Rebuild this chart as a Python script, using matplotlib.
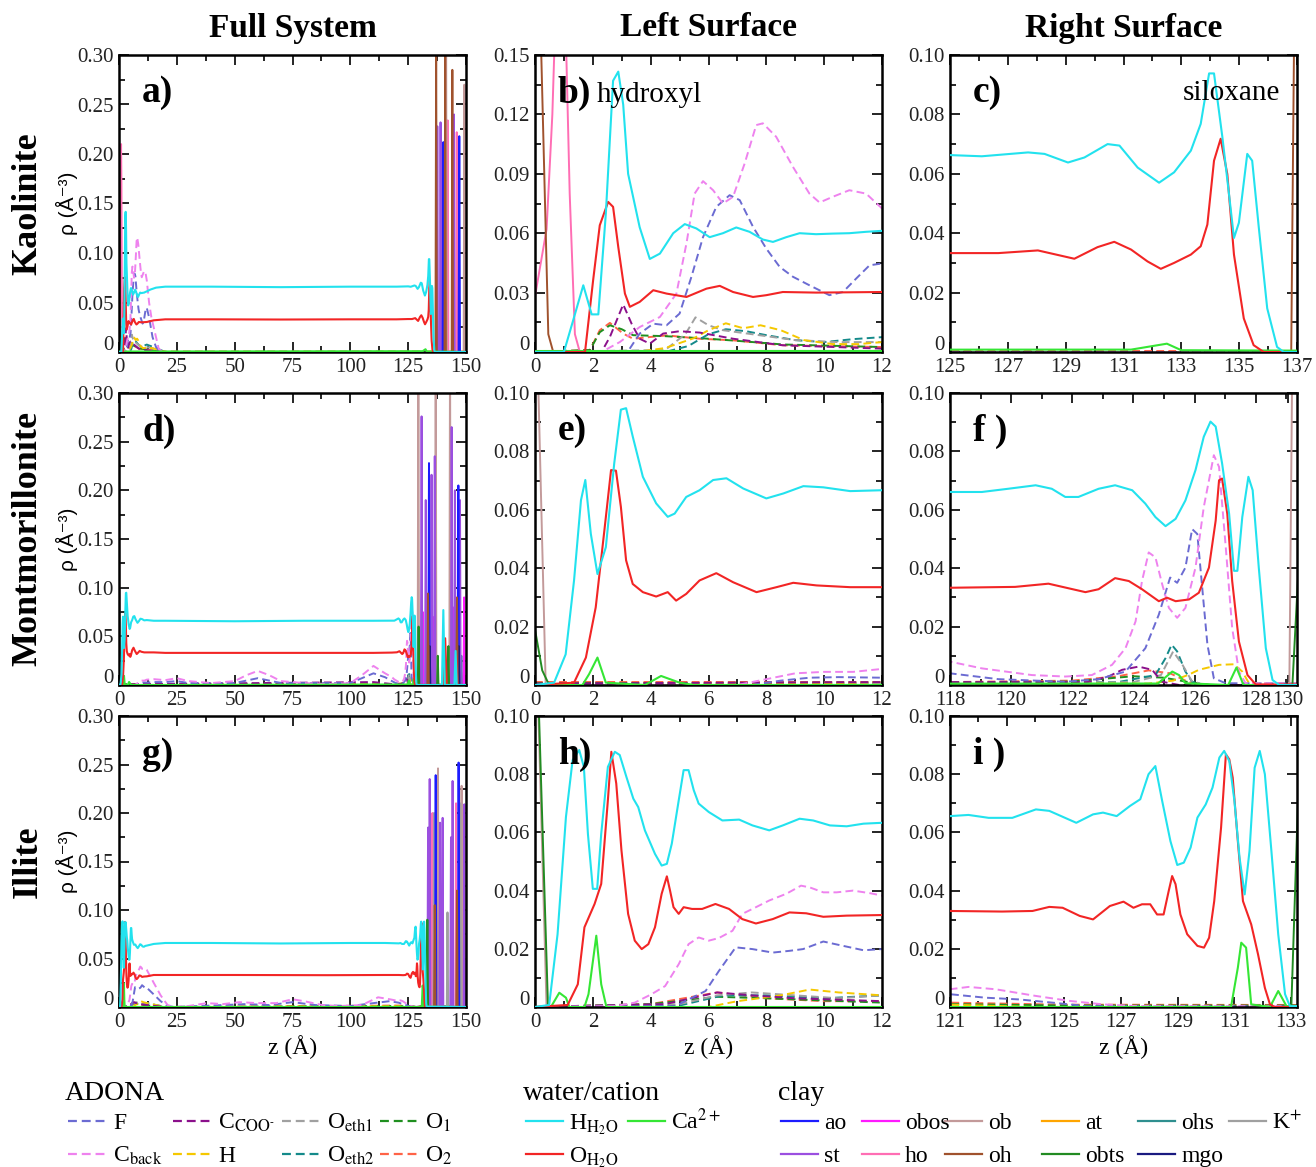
import numpy as np
import matplotlib
matplotlib.use("Agg")
import matplotlib.pyplot as plt
from matplotlib.lines import Line2D
from matplotlib.ticker import FixedLocator, MultipleLocator, FuncFormatter

# ------------------------------------------------------------------ data
# ---------- Kaolinite (full range 0-150 A) ----------
KAO_HW_X = [0, 1.0, 1.3, 1.67, 1.96, 2.19, 2.45, 2.7, 2.88, 3.05, 3.22, 3.62, 3.97, 4.32, 4.78, 5.18, 5.58, 6.04, 6.5,
            6.96, 7.42, 7.88, 8.23, 8.69, 9.15, 9.72, 10.3, 10.87, 11.45, 12.0, 13.5, 16, 20, 40, 70, 100, 120, 125,
            126.1, 127.7, 128.27, 129.08, 129.65, 130.45, 130.86, 131.49, 132.23, 132.75, 133.33, 133.67, 133.96,
            134.13, 134.42, 134.65, 134.82, 134.99, 135.28, 135.45, 135.68, 135.97, 136.31, 136.54, 150]
KAO_HW_Y = [0, 0.0, 0.015, 0.0337, 0.019, 0.019, 0.07, 0.137, 0.1416, 0.125, 0.090, 0.063, 0.047, 0.0497, 0.060,
            0.0646, 0.0624, 0.058, 0.060, 0.0629, 0.0607, 0.0568, 0.0556, 0.058, 0.060, 0.0595, 0.0598, 0.060, 0.0607,
            0.0612, 0.063, 0.065, 0.066, 0.066, 0.0655, 0.066, 0.066, 0.0663, 0.0659, 0.0672, 0.0667, 0.0638, 0.0655,
            0.070, 0.0695, 0.0621, 0.057, 0.0605, 0.0678, 0.0768, 0.0938, 0.0938, 0.0723, 0.053, 0.0384, 0.0435,
            0.0667, 0.0644, 0.0418, 0.0147, 0.0017, 0.0, 0.0]
KAO_OW_X = [0, 1.73, 2.01, 2.24, 2.53, 2.70, 2.88, 3.11, 3.28, 3.62, 4.09, 4.55, 5.24, 5.93, 6.39, 6.85, 7.54, 8.0,
            8.57, 9.72, 12.0, 15, 20, 40, 70, 100, 120, 125, 126.67, 128.04, 129.3, 130.1, 130.68, 131.26, 131.83,
            132.29, 132.75, 133.33, 133.67, 133.9, 134.13, 134.36, 134.59, 134.82, 135.16, 135.5, 135.85, 150]
KAO_OW_Y = [0, 0.0, 0.0362, 0.064, 0.0758, 0.0733, 0.053, 0.0295, 0.0228, 0.0253, 0.0312, 0.0295, 0.0278, 0.032,
            0.0334, 0.0303, 0.0278, 0.0287, 0.0303, 0.030, 0.0303, 0.032, 0.033, 0.033, 0.0328, 0.033, 0.033, 0.0333,
            0.0333, 0.0342, 0.0314, 0.0353, 0.0371, 0.0345, 0.0305, 0.028, 0.030, 0.0328, 0.0356, 0.0429, 0.0644,
            0.0718, 0.0599, 0.0328, 0.0113, 0.0023, 0.0, 0.0]
KAO_CA_X = [0, 129, 131.26, 132.5, 133.0, 150]
KAO_CA_Y = [0.0005, 0.0008, 0.0008, 0.0028, 0.0006, 0.0]
KAO_F_X = [0, 3.2, 3.62, 4.09, 4.55, 5.0, 5.41, 5.81, 6.27, 6.73, 7.08, 7.54, 8.0, 8.46, 8.92, 9.49, 10.18, 10.65,
           11.1, 11.57, 12.0, 13, 14.5, 16, 18, 150]
KAO_F_Y = [0, 0.0, 0.0093, 0.0143, 0.0135, 0.0194, 0.038, 0.058, 0.0733, 0.0792, 0.0767, 0.0632, 0.0522, 0.043,
           0.038, 0.0337, 0.0287, 0.0303, 0.037, 0.0438, 0.0447, 0.035, 0.015, 0.005, 0.0, 0.0]
KAO_CB_X = [0, 2.3, 2.93, 3.62, 4.32, 4.89, 5.24, 5.52, 5.81, 6.16, 6.5, 6.85, 7.25, 7.65, 7.88, 8.34, 8.92, 9.49,
            9.84, 10.3, 10.87, 11.45, 12.0, 13, 14, 15.5, 17.2, 19, 150]
KAO_CB_Y = [0, 0.0, 0.005, 0.0126, 0.0177, 0.0295, 0.055, 0.080, 0.0863, 0.0817, 0.075, 0.0784, 0.0952, 0.1146,
            0.1155, 0.1087, 0.0935, 0.080, 0.0755, 0.0784, 0.0817, 0.080, 0.0725, 0.05, 0.035, 0.02, 0.003, 0.0, 0.0]
KAO_CC_X = [0, 2.3, 2.59, 3.05, 3.34, 3.62, 3.97, 4.43, 5.0, 5.7, 6.85, 8.57, 12.0, 16, 20, 150]
KAO_CC_Y = [0, 0.0, 0.0076, 0.024, 0.0143, 0.0067, 0.0042, 0.0093, 0.0105, 0.0098, 0.0067, 0.0034, 0.0017, 0.001,
            0.0, 0.0]
KAO_H_X = [0, 3.5, 4.5, 5.5, 6.0, 6.6, 7.2, 7.8, 8.5, 9.3, 10.3, 11.2, 12, 16, 20, 150]
KAO_H_Y = [0, 0.0, 0.002, 0.007, 0.011, 0.0145, 0.012, 0.0135, 0.011, 0.006, 0.004, 0.004, 0.005, 0.003, 0.0, 0.0]
KAO_OE1_X = [0, 4.5, 5.2, 5.55, 6.0, 6.5, 7.5, 9.0, 10.5, 12, 16, 20, 150]
KAO_OE1_Y = [0, 0.001, 0.009, 0.0175, 0.0135, 0.011, 0.009, 0.006, 0.005, 0.005, 0.003, 0.0, 0.0]
KAO_OE2_X = [0, 4.5, 5.3, 6.0, 6.6, 7.3, 8.0, 9.0, 10.0, 11.0, 12, 16, 20, 150]
KAO_OE2_Y = [0, 0.0, 0.003, 0.009, 0.0115, 0.0105, 0.0085, 0.006, 0.005, 0.0065, 0.0075, 0.004, 0.0, 0.0]
KAO_O1_X = [0, 1.9, 2.24, 2.59, 3.0, 3.39, 4.5, 5.7, 6.85, 8.57, 12.0, 16, 20, 150]
KAO_O1_Y = [0, 0.001, 0.010, 0.0135, 0.0115, 0.0085, 0.0080, 0.0070, 0.0058, 0.0038, 0.0025, 0.001, 0.0, 0.0]
KAO_O2_X = [0, 1.9, 2.24, 2.59, 3.05, 3.39, 4.55, 5.7, 6.85, 8.57, 12.0, 16, 20, 150]
KAO_O2_Y = [0, 0.001, 0.011, 0.0147, 0.0093, 0.0067, 0.0084, 0.0067, 0.0059, 0.0034, 0.0025, 0.001, 0.0005, 0.0005]
# clay near the left surface
KAO_HO_LX = [0, 0.4, 0.6, 0.75, 0.9, 1.05, 1.2, 1.38, 1.55]
KAO_HO_LY = [0.028, 0.062, 0.12, 0.19, 0.21, 0.17, 0.08, 0.009, 0.0]
KAO_OH_LX = [0, 0.2, 0.35, 0.46, 0.63]
KAO_OH_LY = [0.2, 0.16, 0.073, 0.009, 0.0]
# clay peaks (position, height)
KAO_AO_P, KAO_AO_H = [140.2, 147.1], [0.212, 0.218]
KAO_ST_P, KAO_ST_H = [137.6, 139.0, 144.8], [0.228, 0.232, 0.24]
KAO_OB_P, KAO_OB_H = [141.4, 149.3], [0.33, 0.27]
KAO_OH_P, KAO_OH_H = [137.1, 141.0, 144.1], [0.32, 0.32, 0.285]
KAO_HO_P, KAO_HO_H = [142.1, 146.0], [0.234, 0.222]

# ---------- Montmorillonite ----------
MON_HW_X = [0, 0.66, 1.06, 1.35, 1.59, 1.74, 1.93, 2.16, 2.45, 2.74, 2.97, 3.15, 3.38, 3.73, 4.19, 4.59, 4.83, 5.23,
            5.69, 6.16, 6.62, 7.2, 8.0, 8.59, 9.28, 9.97, 10.9, 12.0, 15, 20, 50, 80, 110, 118, 119.04, 119.9, 120.8,
            121.33, 121.77, 122.2, 122.86, 123.4, 123.96, 124.39, 124.72, 125.05, 125.38, 125.7, 126.03, 126.3,
            126.52, 126.69, 126.9, 127.13, 127.29, 127.4, 127.56, 127.76, 127.9, 128.1, 128.33, 128.55, 128.77,
            139.6, 140.2, 140.8, 145.0, 145.5, 146.0, 150]
MON_HW_Y = [0, 0.0008, 0.0105, 0.0358, 0.0633, 0.0702, 0.0518, 0.038, 0.0472, 0.0759, 0.0943, 0.0948, 0.0851, 0.0713,
            0.0622, 0.0576, 0.0587, 0.0644, 0.0667, 0.0702, 0.0708, 0.0673, 0.0639, 0.0656, 0.0681, 0.0677, 0.0664,
            0.0667, 0.066, 0.066, 0.0655, 0.066, 0.066, 0.0661, 0.0661, 0.0672, 0.0684, 0.0672, 0.0644, 0.0644,
            0.0672, 0.0684, 0.0667, 0.0621, 0.0575, 0.0544, 0.0569, 0.0632, 0.0736, 0.085, 0.0902, 0.0885, 0.0759,
            0.0586, 0.0391, 0.0391, 0.0575, 0.0713, 0.0667, 0.0402, 0.0126, 0.0017, 0.0, 0.0, 0.077, 0.0, 0.0,
            0.035, 0.0, 0.0]
MON_OW_X = [0, 1.35, 1.76, 2.1, 2.4, 2.63, 2.8, 2.97, 3.15, 3.38, 3.73, 4.19, 4.59, 4.88, 5.23, 5.69, 6.27, 6.85,
            7.66, 8.35, 8.93, 9.74, 10.9, 12.0, 15, 20, 50, 80, 110, 118, 120.13, 121.22, 122.43, 122.86, 123.4,
            123.85, 124.28, 124.83, 125.1, 125.38, 125.82, 126.14, 126.47, 126.69, 126.8, 126.9, 127.07, 127.23,
            127.45, 127.73, 128.0, 140.3, 141.0, 141.7, 145.3, 145.8, 146.3, 150]
MON_OW_Y = [0, 0.0008, 0.0094, 0.0266, 0.053, 0.0736, 0.0734, 0.061, 0.0427, 0.0346, 0.0318, 0.0303, 0.0318, 0.0289,
            0.0312, 0.0358, 0.0383, 0.0352, 0.0318, 0.0335, 0.035, 0.0341, 0.0335, 0.0335, 0.0335, 0.033, 0.033,
            0.033, 0.033, 0.0333, 0.0336, 0.0347, 0.0318, 0.0328, 0.0366, 0.0356, 0.0328, 0.0287, 0.0299, 0.0287,
            0.0293, 0.0316, 0.0402, 0.0563, 0.0701, 0.0707, 0.0586, 0.0356, 0.0149, 0.0034, 0.0002, 0.0, 0.048,
            0.0, 0.0, 0.03, 0.0, 0.0]
MON_CA_X = [0, 1.64, 1.87, 2.16, 2.45, 3.8, 4.36, 5.0, 5.5, 124.8, 124.94, 125.27, 125.49, 125.7, 127.1, 127.37,
            127.6, 139.8, 140.6, 141.4, 150]
MON_CA_Y = [0, 0, 0.0037, 0.0094, 0.0008, 0, 0.0031, 0.0008, 0, 0.0005, 0.0017, 0.0046, 0.0034, 0.0006, 0, 0.006,
            0.0, 0, 0.03, 0, 0]
MON_F_X = [0, 7.5, 8.5, 9.5, 10.5, 12, 15, 20, 25, 30, 50, 60, 70, 100, 110, 115, 118, 119.58, 121.77, 122.86,
           123.74, 124.39, 124.83, 125.2, 125.43, 125.7, 125.92, 126.09, 126.25, 126.42, 126.63, 127.02, 150]
MON_F_Y = [0, 0, 0.0015, 0.0025, 0.0027, 0.0025, 0.003, 0.003, 0.004, 0.002, 0.002, 0.007, 0.002, 0.002, 0.012,
           0.008, 0.004, 0.002, 0.0011, 0.002, 0.0046, 0.0126, 0.0241, 0.0368, 0.035, 0.0402, 0.0534, 0.0517,
           0.0333, 0.0138, 0.0023, 0.0006, 0.0]
MON_CB_X = [0, 7.0, 8.0, 9.0, 10, 11, 12, 15, 20, 25, 30, 40, 50, 55, 60, 65, 70, 75, 80, 90, 100, 105, 110, 115,
            118, 119.04, 120.68, 121.77, 122.64, 123.3, 123.74, 124.07, 124.28, 124.5, 124.72, 124.94, 125.16, 125.43,
            125.7, 126.03, 126.3, 126.63, 126.8, 127.02, 127.23, 127.45, 127.67, 150]
MON_CB_Y = [0, 0, 0.002, 0.004, 0.0045, 0.0045, 0.0055, 0.006, 0.005, 0.007, 0.004, 0.002, 0.004, 0.01, 0.0145,
            0.01, 0.004, 0.003, 0.002, 0.001, 0.002, 0.01, 0.0196, 0.012, 0.008, 0.0057, 0.0034, 0.0029, 0.0034,
            0.0069, 0.0126, 0.0218, 0.0356, 0.0454, 0.0437, 0.0345, 0.0264, 0.023, 0.0264, 0.0402, 0.0609, 0.0787,
            0.0747, 0.0471, 0.0195, 0.0046, 0.0006, 0.0]
MON_CC_X = [0, 12, 60, 110, 118, 122.5, 123.2, 123.63, 124.17, 124.61, 124.94, 125.5, 150]
MON_CC_Y = [0.0005, 0.001, 0.002, 0.003, 0.001, 0.001, 0.003, 0.0052, 0.0063, 0.0052, 0.0011, 0.0, 0.0]
MON_H_X = [0, 10, 12, 118, 124.5, 125.3, 125.8, 126.14, 126.8, 127.29, 127.56, 127.78, 150]
MON_H_Y = [0, 0.0005, 0.001, 0.0005, 0.0005, 0.0015, 0.0035, 0.0052, 0.0069, 0.0071, 0.0046, 0.0006, 0]
MON_OE1_X = [0, 12, 118, 124.0, 124.9, 125.3, 125.6, 125.9, 126.3, 150]
MON_OE1_Y = [0, 0.0005, 0.0005, 0.001, 0.0034, 0.0115, 0.007, 0.0015, 0.0, 0]
MON_OE2_X = [0, 12, 118, 123.5, 124.72, 125.05, 125.25, 125.43, 125.7, 125.92, 126.3, 150]
MON_OE2_Y = [0, 0.0005, 0.0005, 0.001, 0.0034, 0.0092, 0.0138, 0.0115, 0.0046, 0.0011, 0.0, 0]
MON_O1_X = [0, 12, 118, 122, 124, 125, 125.8, 126.5, 150]
MON_O1_Y = [0.0006, 0.0008, 0.0008, 0.0012, 0.003, 0.0025, 0.001, 0, 0]
MON_O2_X = [0, 12, 118, 122, 123.5, 124.5, 125.2, 125.8, 126.5, 150]
MON_O2_Y = [0.001, 0.001, 0.001, 0.0015, 0.003, 0.005, 0.004, 0.001, 0.0, 0.0]
MON_OB_LX, MON_OB_LY = [0, 0.12, 0.37, 0.5], [0.15, 0.10, 0.0, 0.0]
MON_OBTS_LX, MON_OBTS_LY = [0, 0.25, 0.49], [0.019, 0.005, 0.0]
MON_OB_P, MON_OB_H = [129.4, 136.9, 143.1], [0.35, 0.35, 0.35]
MON_ST_P = [130.8, 132.6, 135.1, 136.5, 143.8, 145.2, 147.4]
MON_ST_H = [0.276, 0.19, 0.216, 0.235, 0.265, 0.20, 0.19]
MON_AO_P, MON_AO_H = [134.0, 146.7], [0.228, 0.205]
MON_OH_P, MON_OH_H = [133.6, 146.1], [0.094, 0.09]
MON_HO_P, MON_HO_H = [133.2, 146.4], [0.08, 0.08]
MON_OBOS_P, MON_OBOS_H = [131.3, 136.2, 144.3, 149.2], [0.075, 0.07, 0.08, 0.09]
MON_OHS_P, MON_OHS_H = [135.6, 148.0], [0.03, 0.03]
MON_MGO_P, MON_MGO_H = [134.3, 146.9], [0.04, 0.04]
MON_OBTS_P, MON_OBTS_H = [129.5, 137.8, 142.4], [0.06, 0.03, 0.04]

# ---------- Illite ----------
ILL_HW_X = [0, 0.49, 0.78, 1.07, 1.3, 1.53, 1.69, 1.83, 2.0, 2.15, 2.29, 2.52, 2.76, 2.93, 3.16, 3.4, 3.57, 3.8,
            4.15, 4.38, 4.56, 4.73, 4.97, 5.14, 5.31, 5.49, 5.66, 6.01, 6.48, 7.06, 7.52, 8.1, 8.57, 9.15, 9.62,
            10.2, 10.78, 11.36, 12.0, 15, 20, 40, 70, 100, 115, 121, 121.65, 122.36, 123.19, 124.02, 124.49, 125.44,
            126.03, 126.38, 126.86, 127.33, 127.69, 127.98, 128.22, 128.46, 128.75, 128.99, 129.22, 129.46, 129.7,
            129.99, 130.23, 130.47, 130.64, 130.82, 131.0, 131.18, 131.36, 131.53, 131.71, 131.89, 132.07, 132.3,
            132.54, 132.78, 132.95, 150]
ILL_HW_Y = [0, 0.0007, 0.025, 0.0653, 0.0848, 0.0883, 0.0825, 0.0595, 0.0406, 0.0406, 0.0595, 0.0825, 0.0877,
            0.0866, 0.0791, 0.0716, 0.0687, 0.0607, 0.0526, 0.0486, 0.0492, 0.0561, 0.071, 0.0814, 0.0814, 0.0745,
            0.0699, 0.067, 0.0641, 0.0644, 0.0624, 0.0607, 0.0624, 0.0647, 0.0641, 0.0624, 0.0621, 0.063, 0.0633,
            0.065, 0.066, 0.066, 0.0655, 0.066, 0.066, 0.0656, 0.066, 0.065, 0.065, 0.0679, 0.0674, 0.0633, 0.0662,
            0.0668, 0.0656, 0.0691, 0.0714, 0.08, 0.0828, 0.0708, 0.057, 0.0488, 0.0496, 0.0548, 0.0651, 0.0696,
            0.0754, 0.0857, 0.088, 0.0845, 0.0708, 0.0513, 0.0387, 0.0536, 0.0822, 0.088, 0.08, 0.0536, 0.025,
            0.0044, 0.0003, 0.0]
ILL_OW_X = [0, 1.13, 1.48, 1.71, 2.06, 2.29, 2.52, 2.64, 2.81, 2.99, 3.22, 3.45, 3.69, 3.92, 4.15, 4.38, 4.56, 4.67,
            4.79, 4.97, 5.14, 5.43, 5.78, 6.24, 6.71, 7.17, 7.64, 8.22, 8.8, 9.38, 9.97, 10.78, 12.0, 15, 20, 50, 90,
            115, 121, 122.83, 123.9, 124.49, 124.96, 125.56, 126.03, 126.62, 127.1, 127.45, 127.75, 128.04, 128.28,
            128.51, 128.69, 128.81, 128.93, 129.1, 129.34, 129.7, 129.93, 130.11, 130.29, 130.53, 130.7, 130.82,
            130.94, 131.12, 131.3, 131.59, 131.83, 132.07, 132.25, 132.42, 150]
ILL_OW_Y = [0, 0.0007, 0.0078, 0.0274, 0.0354, 0.0423, 0.071, 0.0877, 0.0768, 0.0538, 0.032, 0.0228, 0.0199, 0.0216,
            0.0274, 0.0389, 0.0449, 0.04, 0.0343, 0.032, 0.0343, 0.0337, 0.0337, 0.0354, 0.0337, 0.0302, 0.0287,
            0.0302, 0.0325, 0.0322, 0.031, 0.0314, 0.0316, 0.033, 0.033, 0.033, 0.0328, 0.033, 0.033, 0.0328, 0.033,
            0.0344, 0.0341, 0.0313, 0.0301, 0.0347, 0.0362, 0.0341, 0.0353, 0.0353, 0.0318, 0.0318, 0.0399, 0.045,
            0.0422, 0.0318, 0.025, 0.021, 0.0204, 0.0238, 0.0364, 0.0616, 0.0868, 0.0851, 0.0788, 0.057, 0.0364,
            0.0284, 0.0181, 0.0066, 0.0009, 0.0, 0.0]
ILL_CA_X = [0, 0.55, 0.84, 1.07, 1.19, 1.71, 1.85, 2.12, 2.29, 2.47, 130.88, 131.12, 131.24, 131.41, 131.59, 132.25,
            132.54, 132.83, 150]
ILL_CA_Y = [0, 0, 0.0049, 0.0032, 0, 0, 0.0044, 0.0245, 0.0078, 0, 0, 0.0135, 0.0221, 0.0204, 0.0009, 0, 0.0055,
            0.0003, 0]
ILL_F_X = [0, 4.85, 5.43, 5.9, 6.36, 6.94, 7.52, 8.22, 8.8, 9.27, 9.97, 10.66, 11.36, 12.0, 15, 18, 21, 24, 35, 45,
           55, 65, 75, 85, 100, 110, 117, 121, 122.24, 123.43, 124.6, 125.8, 150]
ILL_F_Y = [0, 0.0003, 0.0032, 0.0055, 0.0124, 0.0205, 0.0199, 0.0187, 0.0193, 0.0199, 0.0225, 0.021, 0.0195, 0.0199,
           0.013, 0.006, 0.001, 0.0, 0.001, 0.002, 0.003, 0.002, 0.005, 0.002, 0.001, 0.004, 0.006, 0.0044, 0.0032,
           0.0026, 0.0015, 0.0003, 0.0]
ILL_CB_X = [0, 2.76, 3.45, 4.03, 4.5, 4.97, 5.31, 5.66, 6.01, 6.36, 6.83, 7.17, 7.64, 8.1, 8.69, 9.2, 9.5, 9.97,
            10.43, 11.0, 11.59, 12.0, 15, 18, 21, 24, 30, 38, 45, 52, 60, 68, 75, 80, 88, 95, 105, 112, 117, 121,
            121.65, 122.6, 124.02, 125.2, 126.38, 127.57, 150]
ILL_CB_Y = [0, 0.0003, 0.0015, 0.0044, 0.0072, 0.0147, 0.0216, 0.0239, 0.0228, 0.0237, 0.0262, 0.032, 0.0343,
            0.0366, 0.0389, 0.0417, 0.0411, 0.0394, 0.0394, 0.04, 0.0391, 0.0383, 0.025, 0.012, 0.002, 0.0, 0.001,
            0.004, 0.003, 0.005, 0.004, 0.004, 0.008, 0.006, 0.002, 0.001, 0.002, 0.01, 0.008, 0.0061, 0.0069,
            0.0061, 0.0038, 0.0021, 0.0009, 0.0003, 0.0]
ILL_CC_X = [0, 4.5, 6.3, 7.5, 9, 12, 16, 20, 150]
ILL_CC_Y = [0, 0.001, 0.005, 0.004, 0.003, 0.002, 0.001, 0, 0]
ILL_H_X = [0, 6, 7, 8.5, 9.5, 10.5, 12, 16, 20, 121, 124, 150]
ILL_H_Y = [0, 0.0, 0.002, 0.004, 0.006, 0.005, 0.004, 0.002, 0.0, 0.0008, 0.0, 0]
ILL_OE1_X = [0, 5, 6.3, 7.5, 9, 10.5, 12, 16, 20, 150]
ILL_OE1_Y = [0, 0.001, 0.004, 0.005, 0.004, 0.003, 0.004, 0.002, 0, 0]
ILL_OE2_X = [0, 5, 6.5, 8, 10, 12, 16, 20, 150]
ILL_OE2_Y = [0, 0.0005, 0.004, 0.004, 0.003, 0.004, 0.002, 0, 0]
ILL_O1_X = [0, 4, 6.3, 8, 12, 16, 20, 121, 125, 150]
ILL_O1_Y = [0, 0.001, 0.0035, 0.003, 0.0015, 0.001, 0, 0.001, 0.0005, 0.0005]
ILL_O2_X = [0, 4, 6.3, 8, 10, 12, 16, 20, 121, 125, 150]
ILL_O2_Y = [0, 0.001, 0.005, 0.003, 0.002, 0.002, 0.001, 0, 0.0015, 0.0008, 0.0005]
ILL_OBTS_LX, ILL_OBTS_LY = [0, 0.14, 0.45], [0.15, 0.10, 0.0]
ILL_OB_LX, ILL_OB_LY = [0, 0.12, 0.4], [0.14, 0.10, 0.0]
ILL_ST_P = [133.6, 134.3, 138.8, 139.9, 143.5, 144.2, 149.3]
ILL_ST_H = [0.185, 0.235, 0.19, 0.195, 0.175, 0.233, 0.209]
ILL_AO_P, ILL_AO_H = [136.9, 146.8], [0.239, 0.252]
ILL_OB_P, ILL_OB_H = [137.9, 148.1], [0.246, 0.228]
ILL_K_P, ILL_K_H = [136.2, 142.0, 147.5], [0.20, 0.0975, 0.21]
ILL_OH_P, ILL_OH_H = [136.5, 146.1], [0.105, 0.12]
ILL_HO_P, ILL_HO_H = [135.5, 145.7], [0.20, 0.21]
ILL_AT_P, ILL_AT_H = [134.0, 149.0], [0.05, 0.05]
ILL_OBTS_P, ILL_OBTS_H = [133.3], [0.09]

# ---------- text ----------
COL_TITLES = ["Full System", "Left Surface", "Right Surface"]
ROW_TITLES = ["Kaolinite", "Montmorillonite", "Illite"]
PANEL_LABELS = [["a)", "b)", "c)"], ["d)", "e)", "f )"], ["g)", "h)", "i )"]]

# ------------------------------------------------------------------ styles
COL = {
    "F": "#6b6bd2", "Cback": "#ee82ee", "Ccoo": "#8b108b", "H": "#f5c800", "Oeth1": "#a0a0a0",
    "Oeth2": "#148a8a", "O1": "#1f8f1f", "O2": "#ff6347",
    "HW": "#22e2ee", "OW": "#f22525", "Ca": "#35e635",
    "ao": "#1c1cff", "st": "#9b4fe0", "obos": "#ff1aff", "ho": "#ff6eb4", "ob": "#c39a9a",
    "oh": "#a0522d", "at": "#ffa500", "obts": "#228b22", "ohs": "#2f8f8f", "mgo": "#1a1a80", "K": "#a0a0a0",
}
DASH = (0, (4, 2.2))


def spikes(pos, hts, w=0.3):
    xs, ys = [], []
    for p, h in sorted(zip(pos, hts)):
        xs += [p - w, p, p + w]
        ys += [0.0, h, 0.0]
    return xs, ys


SYSTEMS = {
    "KAO": dict(
        adona=[(KAO_O2_X, KAO_O2_Y, "O2"), (KAO_O1_X, KAO_O1_Y, "O1"), (KAO_OE2_X, KAO_OE2_Y, "Oeth2"),
               (KAO_OE1_X, KAO_OE1_Y, "Oeth1"), (KAO_H_X, KAO_H_Y, "H"), (KAO_CC_X, KAO_CC_Y, "Ccoo"),
               (KAO_F_X, KAO_F_Y, "F"), (KAO_CB_X, KAO_CB_Y, "Cback")],
        clay=[(KAO_HO_LX, KAO_HO_LY, "ho"), (KAO_OH_LX, KAO_OH_LY, "oh")]
             + [(*spikes(p, h), k) for p, h, k in [(KAO_HO_P, KAO_HO_H, "ho"), (KAO_OB_P, KAO_OB_H, "ob"),
                                                   (KAO_ST_P, KAO_ST_H, "st"), (KAO_AO_P, KAO_AO_H, "ao"),
                                                   (KAO_OH_P, KAO_OH_H, "oh")]],
        water=[(KAO_CA_X, KAO_CA_Y, "Ca"), (KAO_OW_X, KAO_OW_Y, "OW"), (KAO_HW_X, KAO_HW_Y, "HW")],
    ),
    "MON": dict(
        adona=[(MON_O2_X, MON_O2_Y, "O2"), (MON_O1_X, MON_O1_Y, "O1"), (MON_OE2_X, MON_OE2_Y, "Oeth2"),
               (MON_OE1_X, MON_OE1_Y, "Oeth1"), (MON_H_X, MON_H_Y, "H"), (MON_CC_X, MON_CC_Y, "Ccoo"),
               (MON_F_X, MON_F_Y, "F"), (MON_CB_X, MON_CB_Y, "Cback")],
        clay=[(MON_OB_LX, MON_OB_LY, "ob"), (MON_OBTS_LX, MON_OBTS_LY, "obts")]
             + [(*spikes(p, h), k) for p, h, k in [(MON_OHS_P, MON_OHS_H, "ohs"), (MON_OBOS_P, MON_OBOS_H, "obos"),
                                                   (MON_HO_P, MON_HO_H, "ho"), (MON_OB_P, MON_OB_H, "ob"),
                                                   (MON_ST_P, MON_ST_H, "st"), (MON_AO_P, MON_AO_H, "ao"),
                                                   (MON_MGO_P, MON_MGO_H, "mgo"), (MON_OH_P, MON_OH_H, "oh"),
                                                   (MON_OBTS_P, MON_OBTS_H, "obts")]],
        water=[(MON_CA_X, MON_CA_Y, "Ca"), (MON_OW_X, MON_OW_Y, "OW"), (MON_HW_X, MON_HW_Y, "HW")],
    ),
    "ILL": dict(
        adona=[(ILL_O2_X, ILL_O2_Y, "O2"), (ILL_O1_X, ILL_O1_Y, "O1"), (ILL_OE2_X, ILL_OE2_Y, "Oeth2"),
               (ILL_OE1_X, ILL_OE1_Y, "Oeth1"), (ILL_H_X, ILL_H_Y, "H"), (ILL_CC_X, ILL_CC_Y, "Ccoo"),
               (ILL_F_X, ILL_F_Y, "F"), (ILL_CB_X, ILL_CB_Y, "Cback")],
        clay=[(ILL_OB_LX, ILL_OB_LY, "ob"), (ILL_OBTS_LX, ILL_OBTS_LY, "obts")]
             + [(*spikes(p, h), k) for p, h, k in [(ILL_AT_P, ILL_AT_H, "at"), (ILL_HO_P, ILL_HO_H, "ho"),
                                                   (ILL_OB_P, ILL_OB_H, "ob"), (ILL_K_P, ILL_K_H, "K"),
                                                   (ILL_ST_P, ILL_ST_H, "st"), (ILL_AO_P, ILL_AO_H, "ao"),
                                                   (ILL_OH_P, ILL_OH_H, "oh"), (ILL_OBTS_P, ILL_OBTS_H, "obts")]],
        water=[(ILL_CA_X, ILL_CA_Y, "Ca"), (ILL_OW_X, ILL_OW_Y, "OW"), (ILL_HW_X, ILL_HW_Y, "HW")],
    ),
}

# ------------------------------------------------------------------ figure
plt.rcParams["font.family"] = ["Liberation Serif", "DejaVu Serif"]
plt.rcParams["mathtext.fontset"] = "stix"

W, H = 1316, 1167
fig = plt.figure(figsize=(W / 100, H / 100), dpi=100)

COL_L = [119, 535, 950]
COL_R = [466, 882, 1297]
ROW_T = [55, 393, 716]
ROW_B = [352, 685, 1007]

RIGHT_X = {"KAO": (125, 137, [125, 127, 129, 131, 133, 135, 137], None),
           "MON": (118, 129.35, [118, 120, 122, 124, 126, 128, 129.05],
                   ["118", "120", "122", "124", "126", "128", "130"]),
           "ILL": (121, 133.2, [121, 123, 125, 127, 129, 131, 133], None)}

# the "0" label is drawn separately (slightly raised, as in the reference)
yfmt = FuncFormatter(lambda v, p: "" if abs(v) < 1e-9 else f"{v:.2f}")

for r, sysk in enumerate(["KAO", "MON", "ILL"]):
    S = SYSTEMS[sysk]
    for c in range(3):
        l, rr, t, b = COL_L[c], COL_R[c], ROW_T[r], ROW_B[r]
        ax = fig.add_axes([l / W, 1 - b / H, (rr - l) / W, (b - t) / H])
        for x, y, k in S["adona"]:
            ax.plot(x, y, color=COL[k], lw=1.4, linestyle=DASH, zorder=2)
        for x, y, k in S["clay"]:
            ax.plot(x, y, color=COL[k], lw=1.4, zorder=2.5)
        for x, y, k in S["water"]:
            ax.plot(x, y, color=COL[k], lw=1.5, zorder=3)
        if c == 0:
            ax.set_xlim(0, 150)
            ax.set_ylim(0, 0.30)
            ax.xaxis.set_major_locator(MultipleLocator(25))
            ax.xaxis.set_minor_locator(MultipleLocator(12.5))
            ax.yaxis.set_major_locator(MultipleLocator(0.05))
            ax.yaxis.set_minor_locator(MultipleLocator(0.025))
        elif c == 1:
            ax.set_xlim(0, 12)
            ax.xaxis.set_major_locator(MultipleLocator(2))
            ax.xaxis.set_minor_locator(MultipleLocator(1))
            if sysk == "KAO":
                ax.set_ylim(0, 0.15)
                ax.yaxis.set_major_locator(MultipleLocator(0.03))
                ax.yaxis.set_minor_locator(MultipleLocator(0.015))
            else:
                ax.set_ylim(0, 0.10)
                ax.yaxis.set_major_locator(MultipleLocator(0.02))
                ax.yaxis.set_minor_locator(MultipleLocator(0.01))
        else:
            x0, x1, ticks, labels = RIGHT_X[sysk]
            ax.set_xlim(x0, x1)
            ax.set_ylim(0, 0.10)
            ax.xaxis.set_major_locator(FixedLocator(ticks))
            if labels is not None:
                ax.set_xticklabels(labels)
            ax.xaxis.set_minor_locator(MultipleLocator(1))
            ax.yaxis.set_major_locator(MultipleLocator(0.02))
            ax.yaxis.set_minor_locator(MultipleLocator(0.01))
        ax.yaxis.set_major_formatter(yfmt)
        ax.tick_params(which="both", direction="in", top=True, right=True, labelsize=15,
                       labelcolor="#222222", width=1.2, pad=4)
        ax.tick_params(which="major", length=7)
        ax.tick_params(which="minor", length=4)
        for sp in ax.spines.values():
            sp.set_linewidth(1.8)
        ax.annotate("0", xy=(0, 0), xycoords="axes fraction", xytext=(-4, 5), textcoords="offset points",
                    ha="right", va="center", fontsize=15, color="#222222")
        ax.text(23 / (rr - l), 1 - 38 / (b - t), PANEL_LABELS[r][c], transform=ax.transAxes,
                fontsize=27, fontweight="bold", ha="left", va="center")
        if r == 0 and c == 1:
            ax.text((597 - l) / (rr - l), 1 - 40 / (b - t), "hydroxyl", transform=ax.transAxes,
                    fontsize=21, ha="left", va="center")
        if r == 0 and c == 2:
            ax.text((1280 - l) / (rr - l), 1 - 38 / (b - t), "siloxane", transform=ax.transAxes,
                    fontsize=21, ha="right", va="center")
        if c == 0:
            fig.text(67 / W, 1 - ((t + b) / 2) / H, "ρ (Å⁻³)", rotation=90, fontsize=15,
                     family=["Liberation Sans", "DejaVu Sans"], ha="center", va="center")
            fig.text(28 / W, 1 - ((t + b) / 2) / H, ROW_TITLES[r], rotation=90, fontsize=26,
                     fontweight="bold", ha="center", va="center")
        if r == 0:
            fig.text(((l + rr) / 2) / W, 1 - 28 / H, COL_TITLES[c], fontsize=24, fontweight="bold",
                     ha="center", va="center")
        if r == 2:
            fig.text(((l + rr) / 2) / W, 1 - 1047 / H, "z (Å)", fontsize=17, ha="center", va="center")

# ------------------------------------------------------------------ legend (drawn manually)
LEG_ADONA = [("F", "F", 68, 0), (r"C$_{\mathrm{back}}$", "Cback", 68, 1),
             (r"C$_{\mathrm{COO^{\text{-}}}}$", "Ccoo", 173, 0), ("H", "H", 173, 1),
             (r"O$_{\mathrm{eth1}}$", "Oeth1", 282, 0), (r"O$_{\mathrm{eth2}}$", "Oeth2", 282, 1),
             (r"O$_{1}$", "O1", 380, 0), (r"O$_{2}$", "O2", 380, 1)]
LEG_WATER = [(r"H$_{\mathrm{H_2O}}$", "HW", 526, 0), (r"O$_{\mathrm{H_2O}}$", "OW", 526, 1),
             (r"Ca$^{2+}$", "Ca", 628, 0)]
LEG_CLAY = [("ao", "ao", 781, 0), ("st", "st", 781, 1), ("obos", "obos", 862, 0), ("ho", "ho", 862, 1),
            ("ob", "ob", 945, 0), ("oh", "oh", 945, 1), ("at", "at", 1042, 0), ("obts", "obts", 1042, 1),
            ("ohs", "ohs", 1138, 0), ("mgo", "mgo", 1138, 1), (r"K$^{+}$", "K", 1229, 0)]
ROW_Y = [1121, 1154]


def leg_entry(label, key, x, row, dashed):
    y = ROW_Y[row]
    hl = 39 if dashed else 37
    fig.add_artist(Line2D([x / W, (x + hl) / W], [1 - y / H, 1 - y / H], transform=fig.transFigure,
                          color=COL[key], lw=1.6, linestyle=DASH if dashed else "-"))
    fig.text((x + hl + 6) / W, 1 - (y + 8) / H, label, fontsize=17, ha="left", va="baseline")


for e in LEG_ADONA:
    leg_entry(*e, dashed=True)
for e in LEG_WATER + LEG_CLAY:
    leg_entry(*e, dashed=False)
fig.text(65 / W, 1 - 1100 / H, "ADONA", fontsize=20, ha="left", va="baseline")
fig.text(523 / W, 1 - 1100 / H, "water/cation", fontsize=20, ha="left", va="baseline")
fig.text(778 / W, 1 - 1100 / H, "clay", fontsize=20, ha="left", va="baseline")

fig.savefig("out.png", dpi=100)
